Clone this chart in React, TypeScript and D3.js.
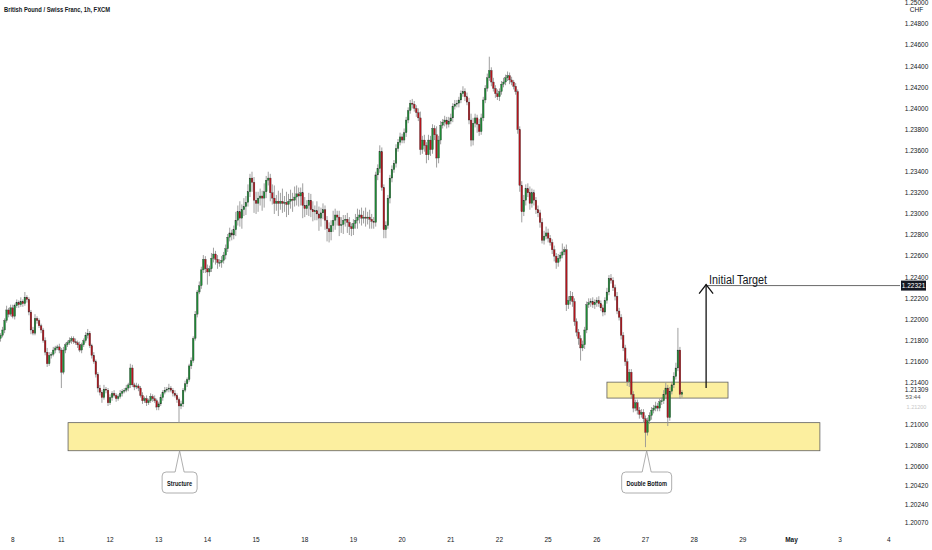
import { scaleLinear, format } from "d3";

const title = "British Pound / Swiss Franc, 1h, FXCM";

// x axis: one label per session, session 0 = Apr 8
const dayLabels = ["8", "11", "12", "13", "14", "15", "18", "19", "20", "21", "22", "25", "26", "27", "28", "29", "May", "3", "4"];

// right axis tick values
const priceTicks = [1.25, 1.248, 1.246, 1.244, 1.242, 1.24, 1.238, 1.236, 1.234, 1.232, 1.23, 1.228, 1.226, 1.224, 1.222, 1.22, 1.218, 1.216, 1.214, 1.21, 1.208, 1.206, 1.2042, 1.2024, 1.2007];

// hourly candles, first one is Apr 7 18:00
const firstOpen = 1.2182;
const closes = [
  // Apr 7
  1.2185, 1.2190, 1.2199, 1.2209, 1.2205, 1.2211,
  // Apr 8
  1.2203, 1.2213, 1.2216, 1.2214, 1.2217, 1.2215, 1.2221, 1.2219, 1.2207, 1.2190, 1.2187, 1.2201,
  1.2199, 1.2194, 1.2190, 1.2180, 1.2169, 1.2158, 1.2166, 1.2167, 1.2171, 1.2173, 1.2174, 1.2171,
  // Apr 11
  1.2150, 1.2171, 1.2176, 1.2178, 1.2180, 1.2182, 1.2179, 1.2178, 1.2176, 1.2171, 1.2176, 1.2180,
  1.2185, 1.2187, 1.2175, 1.2166, 1.2160, 1.2148, 1.2135, 1.2131, 1.2126, 1.2134, 1.2133, 1.2121,
  // Apr 12
  1.2126, 1.2130, 1.2128, 1.2125, 1.2127, 1.2130, 1.2132, 1.2133, 1.2135, 1.2138, 1.2154, 1.2138,
  1.2136, 1.2137, 1.2135, 1.2128, 1.2123, 1.2125, 1.2121, 1.2123, 1.2127, 1.2125, 1.2123, 1.2117,
  // Apr 13
  1.2120, 1.2126, 1.2131, 1.2133, 1.2134, 1.2135, 1.2133, 1.2130, 1.2128, 1.2124, 1.2118, 1.2120,
  1.2133, 1.2139, 1.2143, 1.2156, 1.2161, 1.2182, 1.2205, 1.2226, 1.2232, 1.2247, 1.2257, 1.2248,
  // Apr 14
  1.2245, 1.2248, 1.2258, 1.2262, 1.2257, 1.2254, 1.2254, 1.2256, 1.2261, 1.2267, 1.2278, 1.2282,
  1.2280, 1.2285, 1.2294, 1.2302, 1.2296, 1.2304, 1.2307, 1.2311, 1.2321, 1.2334, 1.2330, 1.2313,
  // Apr 15
  1.2310, 1.2315, 1.2317, 1.2315, 1.2321, 1.2332, 1.2334, 1.2320, 1.2315, 1.2310, 1.2312, 1.2310,
  1.2312, 1.2310, 1.2311, 1.2309, 1.2312, 1.2314, 1.2313, 1.2316, 1.2319, 1.2317, 1.2320, 1.2308,
  // Apr 18
  1.2305, 1.2308, 1.2313, 1.2304, 1.2302, 1.2303, 1.2300, 1.2296, 1.2301, 1.2304, 1.2294, 1.2286,
  1.2283, 1.2289, 1.2294, 1.2299, 1.2297, 1.2289, 1.2290, 1.2294, 1.2295, 1.2292, 1.2288, 1.2286,
  // Apr 19
  1.2291, 1.2294, 1.2297, 1.2299, 1.2296, 1.2297, 1.2296, 1.2297, 1.2295, 1.2293, 1.2292, 1.2337,
  1.2343, 1.2359, 1.2325, 1.2285, 1.2289, 1.2315, 1.2334, 1.2342, 1.2348, 1.2362, 1.2368, 1.2373,
  // Apr 20
  1.2370, 1.2377, 1.2389, 1.2398, 1.2405, 1.2404, 1.2400, 1.2396, 1.2391, 1.2361, 1.2370, 1.2365,
  1.2356, 1.2370, 1.2361, 1.2381, 1.2375, 1.2353, 1.2370, 1.2384, 1.2387, 1.2389, 1.2385, 1.2388,
  // Apr 21
  1.2391, 1.2402, 1.2404, 1.2405, 1.2408, 1.2414, 1.2416, 1.2411, 1.2406, 1.2389, 1.2370, 1.2386,
  1.2391, 1.2385, 1.2378, 1.2391, 1.2408, 1.2419, 1.2429, 1.2436, 1.2425, 1.2419, 1.2414, 1.2411,
  // Apr 22
  1.2416, 1.2423, 1.2425, 1.2429, 1.2431, 1.2427, 1.2425, 1.2421, 1.2416, 1.2380, 1.2327, 1.2302,
  1.2313, 1.2324, 1.2320, 1.2310, 1.2320, 1.2313, 1.2304, 1.2301, 1.2292, 1.2275, 1.2279, 1.2282,
  // Apr 25
  1.2277, 1.2273, 1.2266, 1.2260, 1.2254, 1.2258, 1.2261, 1.2264, 1.2266, 1.2214, 1.2218, 1.2222,
  1.2217, 1.2198, 1.2188, 1.2182, 1.2173, 1.2176, 1.2190, 1.2214, 1.2216, 1.2217, 1.2214, 1.2216,
  // Apr 26
  1.2218, 1.2215, 1.2211, 1.2207, 1.2218, 1.2226, 1.2239, 1.2237, 1.2230, 1.2222, 1.2208, 1.2202,
  1.2185, 1.2173, 1.2160, 1.2141, 1.2150, 1.2129, 1.2116, 1.2121, 1.2114, 1.2110, 1.2112, 1.2106,
  // Apr 27
  1.2093, 1.2104, 1.2109, 1.2114, 1.2116, 1.2118, 1.2116, 1.2122, 1.2123, 1.2129, 1.2135, 1.2107,
  1.2132, 1.2138, 1.2146, 1.2154, 1.2171, 1.2129, 1.21309,
];

// wick lengths in pips above / below the body
const upperWicks = [
  2, 3, 2, 4, 2, 3,
  3, 2, 3, 2, 4, 2, 5, 2, 2, 2, 3, 4, 2, 2, 2, 2, 3, 4, 3, 2, 3, 2, 2, 3,
  2, 3, 2, 2, 3, 2, 2, 3, 2, 3, 2, 2, 3, 4, 2, 2, 3, 2, 2, 3, 2, 4, 2, 2,
  3, 2, 3, 2, 2, 3, 2, 2, 3, 2, 4, 3, 2, 3, 2, 2, 3, 2, 3, 2, 3, 2, 3, 2,
  2, 3, 2, 3, 2, 4, 2, 2, 3, 2, 2, 3, 2, 3, 2, 2, 3, 2, 3, 2, 4, 3, 4, 3,
  4, 3, 5, 6, 3, 4, 3, 4, 3, 4, 3, 5, 3, 4, 8, 6, 10, 5, 8, 6, 7, 4, 6, 5,
  8, 6, 7, 5, 8, 4, 6, 4, 8, 12, 6, 10, 8, 12, 6, 10, 7, 9, 6, 10, 8, 6, 5, 9,
  8, 5, 7, 6, 8, 5, 9, 7, 5, 6, 4, 4, 6, 5, 9, 6, 4, 6, 7, 5, 4, 6, 5, 3,
  4, 6, 8, 5, 7, 6, 9, 5, 7, 5, 4, 3, 4, 6, 4, 3, 4, 3, 3, 4, 3, 4, 3, 4,
  3, 4, 3, 3, 3, 4, 3, 3, 4, 6, 4, 5, 3, 5, 4, 4, 3, 8, 4, 4, 3, 4, 3, 4,
  4, 3, 4, 3, 3, 3, 5, 3, 4, 4, 6, 5, 4, 3, 5, 4, 3, 3, 4, 13, 3, 4, 3, 4,
  3, 3, 4, 3, 4, 3, 3, 2, 3, 2, 3, 4, 5, 4, 5, 6, 4, 3, 3, 4, 3, 4, 5, 6,
  4, 3, 3, 4, 3, 4, 3, 8, 3, 5, 4, 5, 4, 3, 3, 3, 3, 4, 3, 3, 4, 3, 4, 3,
  3, 4, 3, 3, 3, 4, 3, 4, 3, 3, 4, 3, 3, 3, 3, 3, 3, 3, 3, 3, 3, 3, 3, 3,
  3, 3, 3, 3, 3, 4, 3, 3, 3, 4, 5, 3, 4, 3, 4, 5, 21, 3, 2,
];
const lowerWicks = [
  3, 2, 3, 2, 3, 2,
  2, 3, 2, 3, 2, 3, 2, 3, 3, 4, 2, 2, 3, 2, 3, 2, 3, 3, 2, 3, 2, 3, 2, 3,
  15, 2, 3, 2, 2, 3, 2, 2, 3, 2, 3, 2, 2, 3, 2, 3, 2, 3, 4, 3, 5, 2, 3, 3,
  2, 3, 2, 3, 2, 2, 3, 2, 2, 3, 3, 2, 3, 2, 3, 2, 3, 2, 3, 2, 2, 3, 2, 3,
  3, 2, 3, 2, 2, 3, 2, 3, 2, 3, 16, 3, 3, 2, 3, 2, 3, 2, 2, 3, 2, 3, 3, 4,
  12, 4, 3, 4, 5, 6, 4, 5, 3, 4, 3, 4, 5, 4, 6, 5, 8, 10, 6, 8, 4, 5, 9, 12,
  10, 8, 7, 12, 9, 6, 5, 8, 6, 10, 7, 12, 6, 9, 8, 12, 10, 7, 11, 6, 8, 10, 9, 12,
  8, 6, 10, 7, 9, 8, 6, 12, 8, 6, 9, 12, 10, 8, 6, 9, 8, 10, 7, 9, 6, 10, 8, 7,
  6, 5, 8, 6, 7, 5, 8, 6, 9, 7, 6, 4, 5, 4, 3, 8, 8, 3, 5, 4, 3, 4, 3, 3,
  3, 3, 4, 3, 3, 4, 3, 4, 3, 5, 4, 6, 8, 5, 6, 4, 5, 9, 5, 4, 3, 4, 4, 3,
  3, 4, 3, 3, 4, 3, 3, 4, 3, 4, 6, 5, 4, 8, 4, 3, 3, 3, 3, 3, 4, 3, 4, 3,
  4, 3, 3, 3, 3, 4, 3, 3, 3, 4, 6, 10, 4, 5, 4, 6, 4, 5, 4, 4, 5, 3, 4, 3,
  4, 3, 4, 5, 6, 4, 3, 3, 3, 6, 4, 4, 5, 4, 4, 6, 12, 3, 4, 3, 3, 4, 3, 4,
  4, 3, 3, 4, 3, 3, 3, 3, 3, 4, 3, 3, 4, 3, 4, 4, 5, 4, 4, 3, 4, 4, 3, 4,
  14, 3, 3, 4, 3, 3, 3, 3, 3, 3, 4, 8, 3, 3, 3, 3, 3, 4, 3,
];

// drawings (time in hours from Apr 8 00:00)
const supportZone = { from: 27.3, to: 398, top: 1.21022, bottom: 1.20756 };
const retestZone = { from: 293, to: 352.7, top: 1.21406, bottom: 1.21255 };
const targetPrice = 1.22321;
const arrowHour = 341.9;
const arrowBase = 1.2135;
const callouts = [
  { text: "Structure", hour: 82.3, w: 35, tw: 25 },
  { text: "Double Bottom", hour: 312.6, w: 50, tw: 40.5 },
];

const W = 932;
const H = 550;
const plotRight = 900;
const font = "'Liberation Sans', Arial, sans-serif";
const fmt = format(".5f");

function calloutPath(cx: number, apexY: number, w: number) {
  const x0 = cx - w / 2, x1 = cx + w / 2, y0 = 472, y1 = 493, r = 4;
  return `M${x0 + r},${y0} L${cx - 4.5},${y0} L${cx},${apexY} L${cx + 4.5},${y0} L${x1 - r},${y0}
    Q${x1},${y0} ${x1},${y0 + r} L${x1},${y1 - r} Q${x1},${y1} ${x1 - r},${y1}
    L${x0 + r},${y1} Q${x0},${y1} ${x0},${y1 - r} L${x0},${y0 + r} Q${x0},${y0} ${x0 + r},${y0} Z`;
}

export default function App() {
  const x = scaleLinear().domain([-6.26, 437.5]).range([0, plotRight]);
  const y = scaleLinear().domain([1.2, 1.25]).range([530.5, 2.9]);

  const candles = closes.map((c, i) => {
    const o = i === 0 ? firstOpen : closes[i - 1];
    return {
      h: i - 6,
      o,
      c,
      hi: Math.max(o, c) + upperWicks[i] / 10000,
      lo: Math.min(o, c) - lowerWicks[i] / 10000,
    };
  });
  const last = closes[closes.length - 1];
  const ax = x(arrowHour);
  const ty = y(targetPrice);

  return (
    <svg width={W} height={H} style={{ position: "absolute", left: 0, top: 0, background: "#fff" }}>
      <rect width={W} height={H} fill="#fff" />

      {[supportZone, retestZone].map((z, i) => (
        <rect
          key={i}
          x={x(z.from)}
          y={y(z.top)}
          width={x(z.to) - x(z.from)}
          height={y(z.bottom) - y(z.top)}
          fill="#fcef9f"
          stroke="#5f5f5f"
          strokeWidth={0.8}
        />
      ))}

      <g>
        {candles.map((d, i) => {
          const cx = x(d.h);
          const top = y(Math.max(d.o, d.c));
          const bot = y(Math.min(d.o, d.c));
          const up = d.c >= d.o;
          return (
            <g key={i}>
              <line x1={cx} x2={cx} y1={y(d.hi)} y2={y(d.lo)} stroke="#949494" strokeWidth={0.9} />
              <rect
                x={cx - 0.85}
                y={top}
                width={1.7}
                height={Math.max(bot - top, 0.8)}
                fill={up ? "#1d8a35" : "#b3141c"}
                stroke="#333"
                strokeWidth={0.3}
              />
            </g>
          );
        })}
      </g>

      {/* target ray and arrow */}
      <line x1={ax + 1} x2={plotRight} y1={ty} y2={ty} stroke="#6a6a6a" strokeWidth={1} />
      <line x1={ax} x2={ax} y1={y(arrowBase)} y2={ty - 1} stroke="#111" strokeWidth={1.3} />
      <polyline points={`${ax - 7},${ty + 8} ${ax},${ty - 1} ${ax + 7},${ty + 8}`} fill="none" stroke="#111" strokeWidth={1.3} />
      <text x={ax + 3} y={ty - 1.5} fontFamily={font} fontSize={12.5} fill="#131722" textLength={58} lengthAdjust="spacingAndGlyphs">
        Initial Target
      </text>

      {callouts.map((c) => {
        const cx = x(c.hour);
        return (
          <g key={c.text}>
            <path d={calloutPath(cx, y(supportZone.bottom), c.w)} fill="#fff" stroke="#9a9a9a" strokeWidth={0.8} />
            <text x={cx} y={485.5} textAnchor="middle" fontFamily={font} fontSize={7} fontWeight={600} fill="#131722" textLength={c.tw} lengthAdjust="spacingAndGlyphs">
              {c.text}
            </text>
          </g>
        );
      })}

      {/* title */}
      <text x={4} y={12} fontFamily={font} fontSize={8} fontWeight={700} fill="#131722" textLength={106} lengthAdjust="spacingAndGlyphs">
        {title}
      </text>

      {/* price axis */}
      <g fontFamily={font} fontSize={6.5} fill="#131722" textAnchor="middle">
        {priceTicks.map((p) => (
          <text key={p} x={916.5} y={y(p) + 2.3}>
            {fmt(p)}
          </text>
        ))}
        <text x={916.5} y={11.5} fontSize={6.5}>CHF</text>
        <text x={916.5} y={y(1.212) + 5} fill="#c8c8c8" fontSize={5.5}>{fmt(1.212)}</text>
        <rect x={901} y={ty - 5} width={25} height={10} fill="#131722" />
        <text x={913.5} y={ty + 2.3} fill="#fff">{fmt(targetPrice)}</text>
        <rect x={901} y={y(last) - 7} width={26} height={14} fill="#fff" />
        <text x={916.5} y={y(last) - 0.8}>{fmt(last)}</text>
        <text x={913} y={y(last) + 7} fill="#555" fontSize={6}>53:44</text>
      </g>

      {/* time axis */}
      <g fontFamily={font} fontSize={6.5} fill="#131722" textAnchor="middle">
        {dayLabels.map((lab, i) => (
          <text key={lab + i} x={x(i * 24)} y={542} fontWeight={lab === "May" ? 700 : 400}>
            {lab}
          </text>
        ))}
      </g>
    </svg>
  );
}
